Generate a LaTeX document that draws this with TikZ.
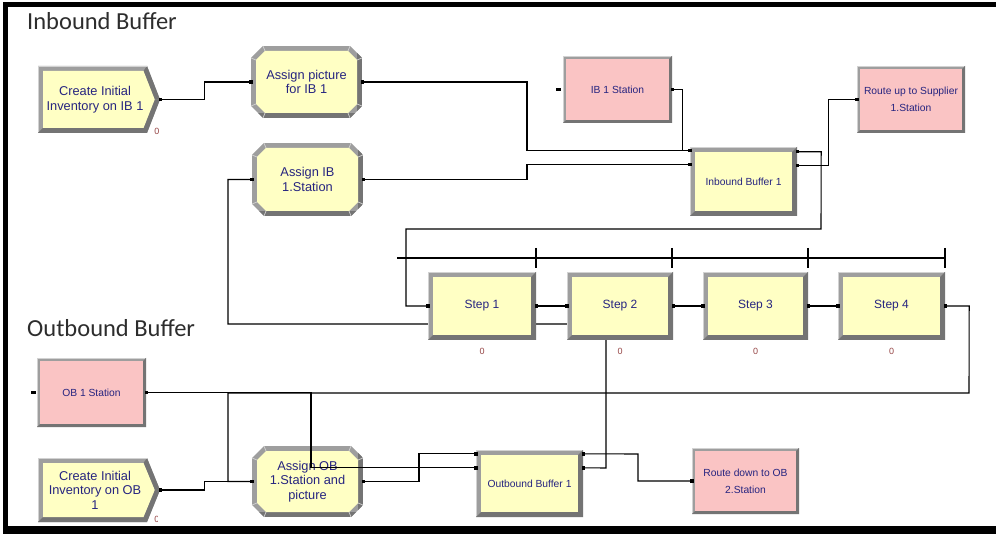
\documentclass[tikz,border=0pt]{standalone}
\usepackage{fontspec}
\newfontfamily\arenafont{Liberation Sans}
\newfontfamily\titlefont{Carlito}
\usetikzlibrary{calc}
\pgfdeclarelayer{back}
\pgfdeclarelayer{bg}
\pgfsetlayers{back,bg,main}
\definecolor{ylw}{RGB}{255,255,196}
\definecolor{pnk}{RGB}{250,196,196}
\definecolor{bvmid}{RGB}{158,158,158}
\definecolor{bvdark}{RGB}{116,116,116}
\definecolor{bvlight}{RGB}{210,210,210}
\definecolor{navy}{RGB}{38,36,128}
\definecolor{zred}{RGB}{150,70,70}
\definecolor{ttl}{RGB}{45,45,45}
\tikzset{
 wire/.style={draw=black, line width=1.1pt},
 lbl/.style={inner sep=0pt, align=center, text=navy},
 bigtxt/.style={lbl, font=\arenafont\fontsize{12.8}{14.5}\selectfont},
 steptxt/.style={lbl, font=\arenafont\fontsize{12}{14}\selectfont},
 smalltxt/.style={lbl, font=\arenafont\fontsize{10.3}{17}\selectfont},
 zero/.style={inner sep=0pt, text=zred, font=\arenafont\fontsize{9}{10}\selectfont},
 ttlstyle/.style={inner sep=0pt, anchor=base west, text=ttl, font=\titlefont\fontsize{24.5}{28}\selectfont},
 boxsize/.style 2 args={minimum width=#1, minimum height=#2},
}
\newcommand{\bevrect}[6]{%
 \fill[bvmid] (#1,#2) rectangle (#3,#4);
 \fill[bvdark] (#1,#4) -- (#3,#4) -- (#3,#2) -- ({#3-#6},{#2+#6}) -- ({#3-#6},{#4-#6}) -- ({#1+#6},{#4-#6}) -- cycle;
 \draw[bvlight, line width=0.8pt] ({#1+0.6},{#4-0.6}) -- ({#1+0.6},{#2+0.6}) -- ({#3-0.6},{#2+0.6});
 \fill[#5] ({#1+#6},{#2+#6}) rectangle ({#3-#6},{#4-#6});
}
\newcommand{\bevoct}[4]{%
 \begin{scope}
 \path[clip] ({#1+12},#2) -- ({#3-12},#2) -- (#3,{#2+12}) -- (#3,{#4-12}) -- ({#3-12},#4) -- ({#1+12},#4) -- (#1,{#4-12}) -- (#1,{#2+12}) -- cycle;
 \fill[bvmid] (#1,#2) rectangle (#3,#4);
 \fill[bvdark] (#1,{#4-5}) rectangle (#3,#4);
 \fill[bvdark] ({#3-5},#2) rectangle (#3,#4);
 \end{scope}
 \draw[bvlight, line width=0.7pt] ({#1+12},#2) -- ({#1+14},{#2+5}) (#1,{#2+12}) -- ({#1+5},{#2+14})
   ({#3-12},#2) -- ({#3-14},{#2+5}) (#3,{#2+12}) -- ({#3-5},{#2+14})
   ({#1+12},#4) -- ({#1+14},{#4-5}) (#1,{#4-12}) -- ({#1+5},{#4-14})
   ({#3-12},#4) -- ({#3-14},{#4-5}) (#3,{#4-12}) -- ({#3-5},{#4-14});
 \fill[ylw] ({#1+14},{#2+5}) -- ({#3-14},{#2+5}) -- ({#3-5},{#2+14}) -- ({#3-5},{#4-14}) -- ({#3-14},{#4-5}) -- ({#1+14},{#4-5}) -- ({#1+5},{#4-14}) -- ({#1+5},{#2+14}) -- cycle;
}
\newcommand{\bevchev}[5]{%
 \fill[bvmid] (#1,#2) -- (#3,#2) -- (#4,{(#2+#5)/2}) -- (#3,#5) -- (#1,#5) -- cycle;
 \fill[bvdark] (#1,#5) -- (#3,#5) -- (#4,{(#2+#5)/2}) -- ({#4-5.3},{(#2+#5)/2}) -- ({#3-3.5},{#5-5}) -- ({#1+5},{#5-5}) -- cycle;
 \fill[bvdark] (#3,#2) -- (#4,{(#2+#5)/2}) -- ({#4-5.3},{(#2+#5)/2}) -- ({#3-3.5},{#2+5}) -- cycle;
 \draw[bvlight, line width=0.8pt] ({#1+0.6},{#5-0.6}) -- ({#1+0.6},{#2+0.6}) -- ({#3},{#2+0.6});
 \fill[ylw] ({#1+5},{#2+5}) -- ({#3-3.5},{#2+5}) -- ({#4-5.3},{(#2+#5)/2}) -- ({#3-3.5},{#5-5}) -- ({#1+5},{#5-5}) -- cycle;
}
\newcommand{\portmark}[1]{\fill[black] ($(#1)+(-1.7pt,-1.7pt)$) rectangle ($(#1)+(1.7pt,1.7pt)$);}
\begin{document}
\begin{tikzpicture}[x=1pt,y=-1pt]
\useasboundingbox (0,0) rectangle (996,534);
\begin{pgfonlayer}{back}
\fill[white] (0,0) rectangle (996,534);
\end{pgfonlayer}
% titles
\node[ttlstyle] (t1) at (27,30) {Inbound Buffer};
\node[ttlstyle] (t2) at (27,337) {Outbound Buffer};
% ---------- modules ----------
\bevchev{38}{66}{147}{160}{133}
\node[bigtxt, boxsize={114pt}{67pt}] (cib) at (95,99.5) {Create Initial\\Inventory on IB 1};
\coordinate (cib-out) at ([xshift=8pt]cib.east);
\bevoct{251}{46}{362}{118}
\node[bigtxt, boxsize={111pt}{72pt}] (api) at (306.5,82) {Assign picture\\for IB 1};
\bevoct{252}{143}{363}{216}
\node[bigtxt, boxsize={111pt}{73pt}] (aib) at (307.5,179.5) {Assign IB\\1.Station};
\bevrect{563}{56}{672}{123}{pnk}{3}
\node[smalltxt, boxsize={109pt}{67pt}] (ibs) at (617.5,89.5) {IB 1 Station};
\bevrect{857}{66}{965}{133}{pnk}{3}
\node[smalltxt, boxsize={108pt}{67pt}] (rup) at (911,99.5) {Route up to Supplier\\1.Station};
\bevrect{690}{147}{797}{216}{ylw}{5}
\node[smalltxt, boxsize={107pt}{69pt}] (ibuf) at (743.5,181.5) {Inbound Buffer 1};
\coordinate (ibuf-in1) at ([yshift=-4pt]ibuf.north west);
\coordinate (ibuf-in2) at ([yshift=-18pt]ibuf.north west);
\coordinate (ibuf-out1) at ([yshift=-5pt]ibuf.north east);
\coordinate (ibuf-out2) at ([yshift=-19pt]ibuf.north east);
\bevrect{428}{272}{536}{340}{ylw}{5}
\node[steptxt, boxsize={108pt}{68pt}] (step1) at (482,306) {Step 1};
\bevrect{567}{272}{673}{340}{ylw}{5}
\node[steptxt, boxsize={106pt}{68pt}] (step2) at (620,306) {Step 2};
\bevrect{703}{272}{808}{340}{ylw}{5}
\node[steptxt, boxsize={105pt}{68pt}] (step3) at (755.5,306) {Step 3};
\bevrect{838}{272}{945}{340}{ylw}{5}
\node[steptxt, boxsize={107pt}{68pt}] (step4) at (891.5,306) {Step 4};
\bevrect{37}{358}{146}{427}{pnk}{3}
\node[smalltxt, boxsize={109pt}{69pt}] (obs) at (91.5,392.5) {OB 1 Station};
\bevchev{38}{458}{147}{160}{522}
\node[bigtxt, boxsize={114pt}{64pt}] (cob) at (95,490) {Create Initial\\Inventory on OB\\1};
\coordinate (cob-out) at ([xshift=8pt]cob.east);
\bevoct{252}{446}{363}{517}
\node[bigtxt, boxsize={111pt}{71pt}] (aob) at (307.5,481.5) {Assign OB\\1.Station and\\picture};
\bevrect{476}{450}{583}{517}{ylw}{5}
\node[smalltxt, boxsize={107pt}{67pt}] (obuf) at (529.5,483.5) {Outbound Buffer 1};
\coordinate (obuf-in1) at ([yshift=-4pt]obuf.north west);
\coordinate (obuf-in2) at ([yshift=-18pt]obuf.north west);
\coordinate (obuf-out1) at ([yshift=-4pt]obuf.north east);
\coordinate (obuf-out2) at ([yshift=-18pt]obuf.north east);
\bevrect{692}{448}{799}{514}{pnk}{3}
\node[smalltxt, boxsize={107pt}{66pt}] (rdn) at (745.5,481) {Route down to OB\\2.Station};
% counters
\node[zero] (z0) at (157,131) {0};
\node[zero] (z1) at (482,351) {0};
\node[zero] (z2) at (620,351) {0};
\node[zero] (z3) at (755.5,351) {0};
\node[zero] (z4) at (891.5,351) {0};
\begin{scope}
\clip (150,510) rectangle (157.2,527);
\node[zero] (z5) at (157,519) {0};
\end{scope}
% ---------- connectors ----------
\draw[wire] (cib-out) -- ++(44,0) |- (api.west);
\draw[wire] (api.east) -- (527,82) |- (ibuf-in1);
\draw[wire] (ibs.east) -- ++(10,0) |- (ibuf-in1);
\draw[wire] (aib.east) -- (527,179.5) |- (ibuf-in2);
\draw[wire] (ibuf-out2) -- ++(31,0) |- (rup.west);
\draw[wire] (ibuf-out1) -- ++(24,0) -- (821,229) -- (406,229) |- (step1.west);
\draw[wire] (step1.east) -- (step2.west);
\draw[wire] (step2.east) -- (step3.west);
\draw[wire] (step3.east) -- (step4.west);
\draw[wire] (step4.east) -- ++(24,0) -- (969,393) -- (228,393) |- (aob.west);
\draw[wire] (cob-out) -- ++(44,0) |- (aob.west);
\draw[wire] (aob.east) -- (419,481.5) |- (obuf-in1);
\draw[wire] (obuf-out1) -- (638,454) |- (rdn.west);
\draw[wire] (obs.east) -- (311,392.5) |- (obuf-in2);
\begin{pgfonlayer}{bg}
\draw[wire] (obuf-out2) -- (606,468) -- (606,324) -- (228,324) |- (aib.west);
\end{pgfonlayer}
% sequence bar
\draw[wire] (397,258) -- (945,258);
\foreach \tx in {536,672,808,945} \draw[wire] (\tx,248) -- (\tx,268);
% ports
\foreach \p in {cib-out,api.west,api.east,aib.west,aib.east,ibs.east,ibuf-in1,ibuf-in2,ibuf-out1,ibuf-out2,rup.west,step1.west,step1.east,step2.west,step2.east,step3.west,step3.east,step4.west,step4.east,obs.east,cob-out,aob.west,aob.east,obuf-in1,obuf-in2,obuf-out1,obuf-out2,rdn.west}
  {\portmark{\p}}
\fill[black] (556,88) rectangle (561,91.5);
\fill[black] (31,391) rectangle (36,394.5);
% frame
\fill[black] (3,2) rectangle (996,7);
\fill[black] (3,2) rectangle (8,534);
\fill[black] (3,526) rectangle (996,534);
\end{tikzpicture}
\end{document}
